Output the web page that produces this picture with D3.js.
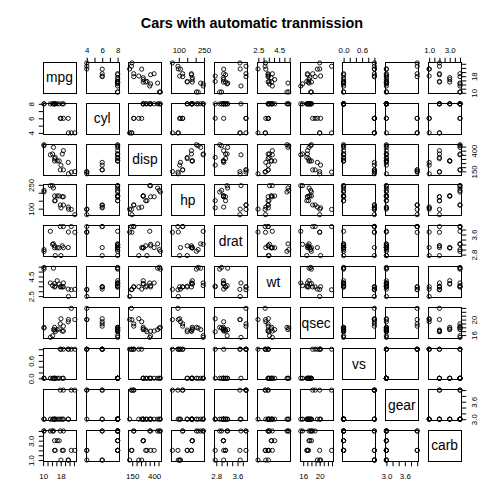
<!DOCTYPE html>
<html><head><meta charset="utf-8">
<script src="https://cdn.jsdelivr.net/npm/d3@7"></script>
<style>
html,body{margin:0;padding:0;background:#fff;}
svg{display:block;font-family:"Liberation Sans",Arial,Helvetica,sans-serif;}
</style></head>
<body>
<svg id="chart" width="504" height="504"></svg>
<script>
// ---- data: mtcars, automatic transmission (am == 0) ----
const varNames = ["mpg","cyl","disp","hp","drat","wt","qsec","vs","gear","carb"];
const mpg  = [21.4,18.7,18.1,14.3,24.4,22.8,19.2,17.8,16.4,17.3,15.2,10.4,10.4,14.7,21.5,15.5,15.2,13.3,19.2];
const cyl  = [6,8,6,8,4,4,6,6,8,8,8,8,8,8,4,8,8,8,8];
const disp = [258,360,225,360,146.7,140.8,167.6,167.6,275.8,275.8,275.8,472,460,440,120.1,318,304,350,400];
const hp   = [110,175,105,245,62,95,123,123,180,180,180,205,215,230,97,150,150,245,175];
const drat = [3.08,3.15,2.76,3.21,3.69,3.92,3.92,3.92,3.07,3.07,3.07,2.93,3.00,3.23,3.70,2.76,3.15,3.73,3.08];
const wt   = [3.215,3.44,3.46,3.57,3.19,3.15,3.44,3.44,4.07,3.73,3.78,5.25,5.424,5.345,2.465,3.52,3.435,3.84,3.845];
const qsec = [19.44,17.02,20.22,15.84,20.00,22.90,18.30,18.90,17.40,17.60,18.00,17.98,17.82,17.42,20.01,16.87,17.30,15.41,17.05];
const vs   = [1,0,1,0,1,1,1,1,0,0,0,0,0,0,1,0,0,0,0];
const gear = [3,3,3,3,4,4,4,4,3,3,3,3,3,3,3,3,3,3,3];
const carb = [1,2,1,4,2,2,4,4,3,3,3,4,4,4,1,2,2,4,2];

// tick positions and the labels that are printed
const mpgTicks  = [10,12,14,16,18,20,22,24];       const mpgLabels  = ["10","18"];
const cylTicks  = [4,5,6,7,8];                      const cylLabels  = ["4","6","8"];
const dispTicks = [150,200,250,300,350,400,450];    const dispLabels = ["150","400"];
const hpTicks   = [100,150,200,250];                const hpLabels   = ["100","250"];
const dratTicks = [2.8,3.0,3.2,3.4,3.6,3.8];        const dratLabels = ["2.8","3.6"];
const wtTicks   = [2.5,3.0,3.5,4.0,4.5,5.0,5.5];    const wtLabels   = ["2.5","4.5"];
const qsecTicks = [16,17,18,19,20,21,22,23];        const qsecLabels = ["16","20"];
const vsTicks   = [0,0.2,0.4,0.6,0.8,1.0];          const vsLabels   = ["0.0","0.6"];
const gearTicks = [3.0,3.2,3.4,3.6,3.8,4.0];        const gearLabels = ["3.0","3.6"];
const carbTicks = [1.0,1.5,2.0,2.5,3.0,3.5,4.0];    const carbLabels = ["1.0","3.0"];

const titleText = "Cars with automatic tranmission";

const columns = [mpg,cyl,disp,hp,drat,wt,qsec,vs,gear,carb];
const tickSets = [mpgTicks,cylTicks,dispTicks,hpTicks,dratTicks,wtTicks,qsecTicks,vsTicks,gearTicks,carbTicks];
const labelSets = [mpgLabels,cylLabels,dispLabels,hpLabels,dratLabels,wtLabels,qsecLabels,vsLabels,gearLabels,carbLabels];

// ---- layout (R pairs defaults, cex 0.66) ----
const W = 504, H = 504, n = varNames.length;
const lh = 0.66 * 14.4;
const omaL = 4*lh, omaR = 4*lh, omaT = 6*lh, omaB = 4*lh;
const gap = lh;
const cellW = (W - omaL - omaR) / n, cellH = (H - omaT - omaB) / n;
const tickLen = 0.5 * lh;
const axisFont = 0.66 * 12;
const labFont = 13.8;

const svg = d3.select("#chart");
svg.append("rect").attr("width", W).attr("height", H).attr("fill", "#fff");

function px0(i){ return omaL + i*cellW + gap/2; }
function py0(j){ return omaT + j*cellH + gap/2; }

const xScales = [], yScales = [];
for (let k = 0; k < n; k++) {
  const ext = d3.extent(columns[k]);
  const r = ext[1] - ext[0];
  const dom = [ext[0] - 0.04*r, ext[1] + 0.04*r];
  xScales.push(d3.scaleLinear().domain(dom).range([px0(k), px0(k) + cellW - gap]));
  yScales.push(d3.scaleLinear().domain(dom).range([py0(k) + cellH - gap, py0(k)]));
}

// title
svg.append("text").attr("x", omaL + (W - omaL - omaR)/2).attr("y", 27.8)
  .attr("text-anchor", "middle").attr("font-weight", "bold").attr("font-size", 14.4)
  .attr("fill", "#000").text(titleText);

const g = svg.append("g");

for (let j = 0; j < n; j++) {
  for (let i = 0; i < n; i++) {
    const x0 = px0(i), y0 = py0(j), w = cellW - gap, h = cellH - gap;
    const cell = g.append("g");
    if (i === j) {
      cell.append("text").attr("x", x0 + w/2).attr("y", y0 + h/2 + 0.358*labFont)
        .attr("text-anchor", "middle").attr("font-size", labFont).attr("fill", "#000")
        .text(varNames[i]);
    } else {
      const xs = columns[i], ys = columns[j];
      const sx = xScales[i];
      const sy = d3.scaleLinear().domain(yScales[j].domain()).range([y0 + h, y0]);
      cell.selectAll("circle").data(d3.range(xs.length)).join("circle")
        .attr("cx", d => sx(xs[d])).attr("cy", d => sy(ys[d])).attr("r", 2.1)
        .attr("fill", "none").attr("stroke", "#000").attr("stroke-width", 0.9);
    }
    cell.append("rect").attr("x", Math.round(x0) + 0.5).attr("y", Math.round(y0) + 0.5)
      .attr("width", Math.round(w)).attr("height", Math.round(h))
      .attr("fill", "none").attr("stroke", "#000").attr("stroke-width", 1);
  }
}

function styleAxis(ax, k, orient) {
  const ticks = tickSets[k];
  ax.select(".domain").remove();
  ax.selectAll(".tick line").attr("stroke", "#000");
  ax.selectAll("text").attr("font-size", axisFont).attr("fill", "#000")
    .attr("font-family", '"Liberation Sans",Arial,Helvetica,sans-serif');
  const sc = (orient === "top" || orient === "bottom") ? xScales[k] : yScales[k];
  const a = sc(ticks[0]), b = sc(ticks[ticks.length - 1]);
  if (orient === "top" || orient === "bottom")
    ax.append("line").attr("x1", a).attr("x2", b).attr("y1", 0).attr("y2", 0).attr("stroke", "#000");
  else
    ax.append("line").attr("y1", a).attr("y2", b).attr("x1", 0).attr("x2", 0).attr("stroke", "#000");
}

function fmtFor(k) {
  const labs = labelSets[k];
  return v => { const s = labs.find(l => Math.abs(+l - v) < 1e-9); return s === undefined ? "" : s; };
}

for (let k = 0; k < n; k++) {
  if (k % 2 === 1) {
    const ax = svg.append("g").attr("transform", `translate(0,${Math.round(py0(0)) + 0.5})`)
      .call(d3.axisTop(xScales[k]).tickValues(tickSets[k]).tickFormat(fmtFor(k))
        .tickSizeInner(tickLen).tickSizeOuter(0).tickPadding(9.5 - tickLen));
    styleAxis(ax, k, "top");
  } else {
    const yb = Math.round(py0(n-1)) + Math.round(cellH - gap) + 0.5;
    const ax = svg.append("g").attr("transform", `translate(0,${yb})`)
      .call(d3.axisBottom(xScales[k]).tickValues(tickSets[k]).tickFormat(fmtFor(k))
        .tickSizeInner(tickLen).tickSizeOuter(0).tickPadding(0));
    ax.selectAll(".tick text").attr("dy", null).attr("y", 17.8);
    styleAxis(ax, k, "bottom");
  }
  if (k % 2 === 1) {
    const ax = svg.append("g").attr("transform", `translate(${Math.round(px0(0)) + 0.5},0)`)
      .call(d3.axisLeft(yScales[k]).tickValues(tickSets[k]).tickFormat(fmtFor(k))
        .tickSizeInner(tickLen).tickSizeOuter(0));
    ax.selectAll(".tick text").attr("x", null).attr("dy", null).attr("text-anchor", "middle")
      .attr("transform", "translate(-9.6,0) rotate(-90)");
    styleAxis(ax, k, "left");
  } else {
    const xr = Math.round(px0(n-1)) + Math.round(cellW - gap) + 0.5;
    const ax = svg.append("g").attr("transform", `translate(${xr},0)`)
      .call(d3.axisRight(yScales[k]).tickValues(tickSets[k]).tickFormat(fmtFor(k))
        .tickSizeInner(tickLen).tickSizeOuter(0));
    ax.selectAll(".tick text").attr("x", null).attr("dy", null).attr("text-anchor", "middle")
      .attr("transform", "translate(15.6,0) rotate(-90)");
    styleAxis(ax, k, "right");
  }
}
</script>
</body></html>
